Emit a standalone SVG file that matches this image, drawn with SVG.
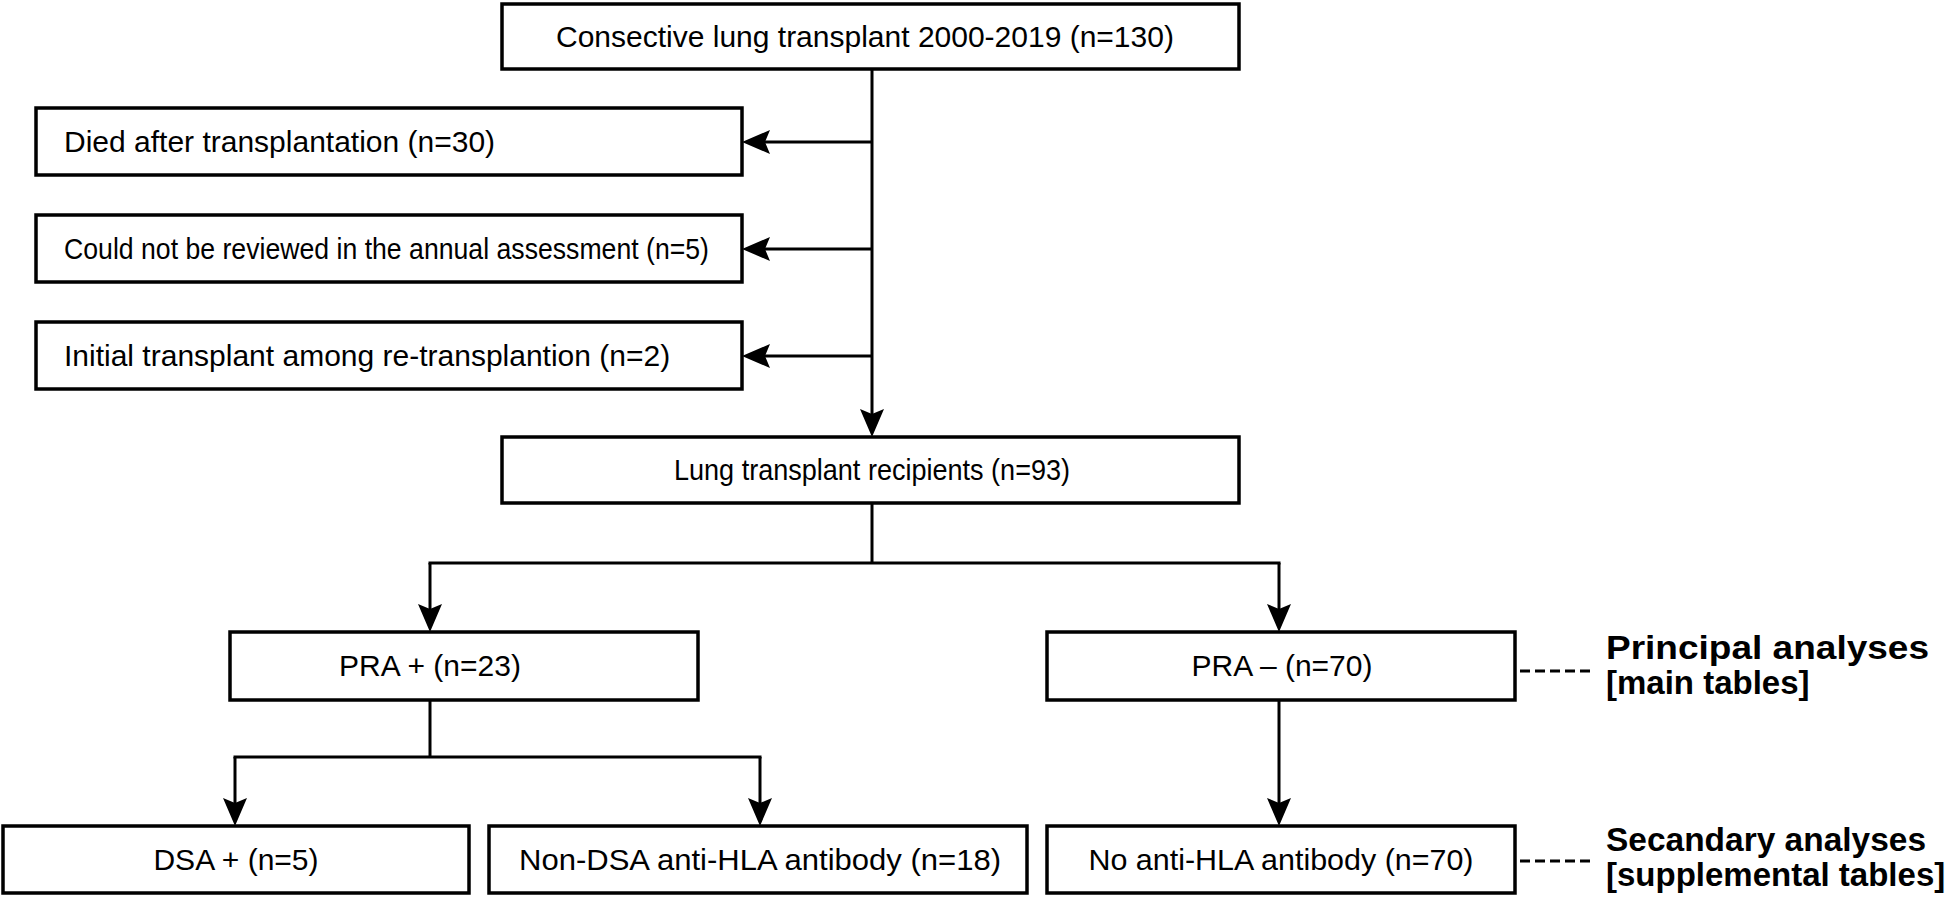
<svg xmlns="http://www.w3.org/2000/svg" width="1947" height="897" viewBox="0 0 1947 897">
  <style>
    .box { fill: #ffffff; stroke: #000000; stroke-width: 3.5; }
    .t { font-family: "Liberation Sans", Arial, Helvetica, sans-serif; font-size: 30px; fill: #000000; }
    .c { text-anchor: middle; }
    .lab { font-family: "Liberation Sans", Arial, Helvetica, sans-serif; font-size: 33px; font-weight: bold; fill: #000000; }
    .ln { fill: none; stroke: #000000; stroke-width: 3; }
    .dash { fill: none; stroke: #000000; stroke-width: 3; stroke-dasharray: 10 5; }
  </style>
  <defs>
    <marker id="arr" viewBox="0 0 28 24" refX="5" refY="12" markerWidth="28" markerHeight="24" markerUnits="userSpaceOnUse" orient="auto">
      <path d="M0,0 L28,12 L0,24 L5,12 Z" fill="#000000"/>
    </marker>
  </defs>
  <rect width="1947" height="897" fill="#ffffff"/>

  <g id="connectors">
    <line class="ln" x1="872" y1="69" x2="872" y2="414" marker-end="url(#arr)"/>
    <line class="ln" x1="872" y1="142" x2="765" y2="142" marker-end="url(#arr)"/>
    <line class="ln" x1="872" y1="249" x2="765" y2="249" marker-end="url(#arr)"/>
    <line class="ln" x1="872" y1="356" x2="765" y2="356" marker-end="url(#arr)"/>
    <line class="ln" x1="872" y1="503" x2="872" y2="563"/>
    <line class="ln" x1="428.5" y1="563" x2="1280.5" y2="563"/>
    <line class="ln" x1="430" y1="563" x2="430" y2="609" marker-end="url(#arr)"/>
    <line class="ln" x1="1279" y1="563" x2="1279" y2="609" marker-end="url(#arr)"/>
    <line class="ln" x1="430" y1="700" x2="430" y2="757"/>
    <line class="ln" x1="233.5" y1="757" x2="761.5" y2="757"/>
    <line class="ln" x1="235" y1="757" x2="235" y2="803" marker-end="url(#arr)"/>
    <line class="ln" x1="760" y1="757" x2="760" y2="803" marker-end="url(#arr)"/>
    <line class="ln" x1="1279" y1="700" x2="1279" y2="803" marker-end="url(#arr)"/>
    <line class="dash" x1="1520" y1="671" x2="1592" y2="671"/>
    <line class="dash" x1="1520" y1="861" x2="1592" y2="861"/>
  </g>

  <g id="n-consecutive">
    <rect class="box" x="502" y="4" width="737" height="65"/>
    <text class="t" x="556" y="47">Consective lung transplant 2000-2019 (n=130)</text>
  </g>
  <g id="n-died">
    <rect class="box" x="36" y="108" width="706" height="67"/>
    <text class="t" x="64" y="152">Died after transplantation (n=30)</text>
  </g>
  <g id="n-notreviewed">
    <rect class="box" x="36" y="215" width="706" height="67"/>
    <text class="t" x="64" y="259" textLength="645" lengthAdjust="spacingAndGlyphs">Could not be reviewed in the annual assessment (n=5)</text>
  </g>
  <g id="n-initial">
    <rect class="box" x="36" y="322" width="706" height="67"/>
    <text class="t" x="64" y="366">Initial transplant among re-transplantion (n=2)</text>
  </g>
  <g id="n-recipients">
    <rect class="box" x="502" y="437" width="737" height="66"/>
    <text class="t c" x="872" y="480" textLength="396" lengthAdjust="spacingAndGlyphs">Lung transplant recipients (n=93)</text>
  </g>
  <g id="n-praplus">
    <rect class="box" x="230" y="632" width="468" height="68"/>
    <text class="t c" x="430" y="676">PRA + (n=23)</text>
  </g>
  <g id="n-praminus">
    <rect class="box" x="1047" y="632" width="468" height="68"/>
    <text class="t c" x="1282" y="676">PRA – (n=70)</text>
  </g>
  <g id="n-dsa">
    <rect class="box" x="3" y="826" width="466" height="67"/>
    <text class="t c" x="236" y="870">DSA + (n=5)</text>
  </g>
  <g id="n-nondsa">
    <rect class="box" x="489" y="826" width="538" height="67"/>
    <text class="t c" x="760" y="870" textLength="482" lengthAdjust="spacingAndGlyphs">Non-DSA anti-HLA antibody (n=18)</text>
  </g>
  <g id="n-noantihla">
    <rect class="box" x="1047" y="826" width="468" height="67"/>
    <text class="t c" x="1281" y="870" textLength="385" lengthAdjust="spacingAndGlyphs">No anti-HLA antibody (n=70)</text>
  </g>
  <g id="n-principal">
    <text class="lab" x="1606" y="659" textLength="323" lengthAdjust="spacingAndGlyphs">Principal analyses</text>
    <text class="lab" x="1606" y="694">[main tables]</text>
  </g>
  <g id="n-secondary">
    <text class="lab" x="1606" y="851" textLength="320" lengthAdjust="spacingAndGlyphs">Secandary analyses</text>
    <text class="lab" x="1606" y="886">[supplemental tables]</text>
  </g>
</svg>
